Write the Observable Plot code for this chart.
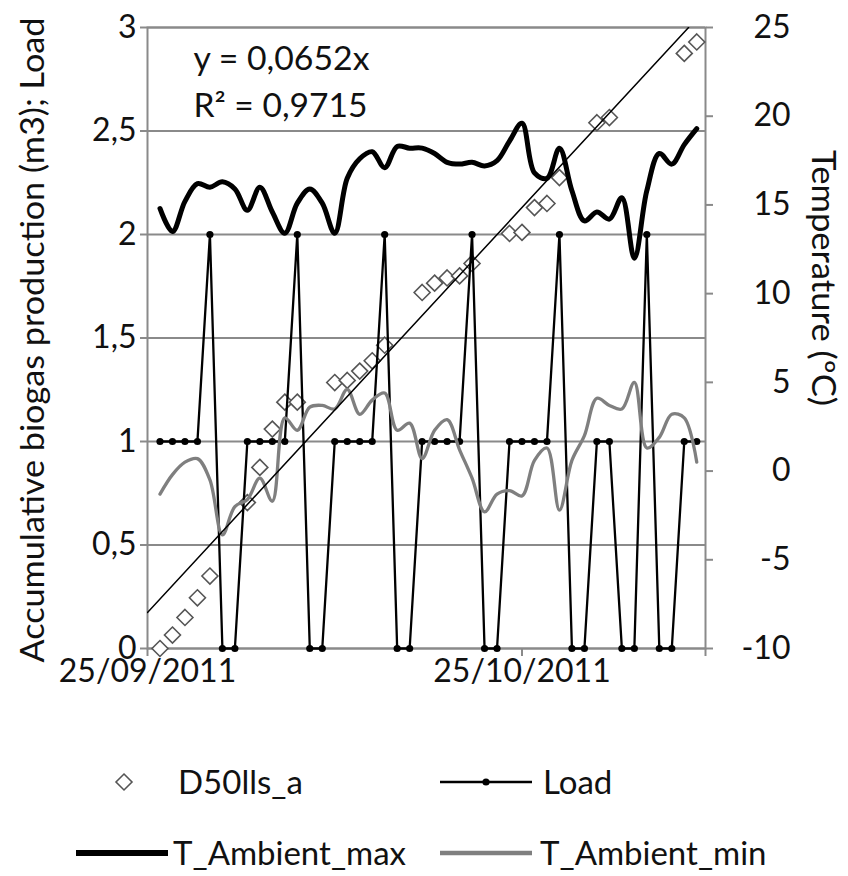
<!DOCTYPE html>
<html><head><meta charset="utf-8">
<script src="https://cdn.jsdelivr.net/npm/d3@7"></script>
<script src="https://cdn.jsdelivr.net/npm/@observablehq/plot@0.6"></script>
<style>
body{margin:0;background:#fff;}
#wrap{position:relative;width:848px;height:876px;font-family:Lato,sans-serif;color:#111;}
#chart{position:absolute;left:0;top:0;}
#legend{position:absolute;left:0;top:700px;}
</style></head><body><div id="wrap"><div id="chart"></div><div id="legend"></div></div>
<script>
// ---------- data (days after 25/09/2011) ----------
const startDate = [2011, 8, 25];
const xTickDays = [0, 30];
const xTickLabels = ["25/09/2011", "25/10/2011"];
const xEndDay = 44.7;

const leftTicks = [0, 0.5, 1, 1.5, 2, 2.5, 3];
const tempTicks = [-10, -5, 0, 5, 10, 15, 20, 25];

const bioDays   = [1,2,3,4,5, 8,9,10,11,12, 15,16,17,18,19, 22,23,24,25,26, 29,30,31,32,33, 36,37, 43,44];
const bioValues = [0,0.065,0.15,0.245,0.35, 0.705,0.875,1.06,1.19,1.19, 1.285,1.295,1.34,1.39,1.465,
                   1.72,1.765,1.79,1.8,1.86, 2.005,2.01,2.13,2.15,2.275, 2.54,2.565, 2.875,2.93];

const seriesDays = [1,2,3,4,5,6,7,8,9,10,11,12,13,14,15,16,17,18,19,20,21,22,23,24,25,26,27,28,29,30,31,32,33,34,35,36,37,38,39,40,41,42,43,44];
const loadValues = [1,1,1,1,2,0,0, 1,1,1,1,2,0,0, 1,1,1,1,2,0,0, 1,1,1,1,2,0,0, 1,1,1,1,2,0,0, 1,1,0,0,2,0,0, 1,1];
const tMaxValues = [14.8,13.5,15.2,16.2,16.0,16.3,15.9,14.7,16.0,14.6,13.4,15.1,15.9,15.1,13.4,16.5,17.6,18.0,17.1,18.3,18.2,
                    18.2,17.9,17.4,17.3,17.4,17.2,17.5,18.6,19.6,16.8,16.5,18.2,15.8,14.1,14.6,14.2,15.4,12.0,15.8,17.9,17.3,18.4,19.3];
const tMinValues = [-1.3,-0.2,0.5,0.7,-0.5,-3.6,-2.0,-1.6,-0.4,-1.7,3.0,2.3,3.6,3.7,3.5,4.6,3.2,4.0,4.4,2.3,2.7,
                    0.7,2.3,2.9,1.2,-0.4,-2.3,-1.3,-1.1,-1.4,0.6,1.3,-2.2,0.6,2.0,4.1,3.7,3.5,5.0,1.3,1.9,3.2,3.0,0.5];

const trendSlope = 0.0652;      // y = 0,0652x
const trendZeroDay = -2.67;     // x origin of the fitted line
const eqLines = ["y = 0,0652x", "R\u00B2 = 0,9715"];
const leftTitle = "Accumulative biogas production (m3); Load";
const rightTitle = "Temperature (\u00BAC)";
const legendLabels = ["D50lls_a", "Load", "T_Ambient_max", "T_Ambient_min"];

// ---------- helpers ----------
const START = Date.UTC(...startDate);
const toDate = d => new Date(START + d * 864e5);
const tMin = -10, tMax = 25, leftMax = 3;
const tempToLeft = t => (t - tMin) / (tMax - tMin) * leftMax;
const leftToTemp = v => v * (tMax - tMin) / leftMax + tMin;

const bio = bioDays.map((d, i) => ({date: toDate(d), v: bioValues[i]}));
const load = seriesDays.map((d, i) => ({date: toDate(d), v: loadValues[i]}));
const tmax = seriesDays.map((d, i) => ({date: toDate(d), v: tempToLeft(tMaxValues[i])}));
const tmin = seriesDays.map((d, i) => ({date: toDate(d), v: tempToLeft(tMinValues[i])}));
const trendEnd = leftMax / trendSlope + trendZeroDay;
const trend = [0, trendEnd].map(d => ({date: toDate(d), v: trendSlope * (d - trendZeroDay)}));

const grid = "#8a8a8a";
const txt = "#111";

const chart = Plot.plot({
  width: 848, height: 700,
  marginLeft: 147, marginRight: 143, marginTop: 27, marginBottom: 52,
  style: {fontFamily: "Lato, sans-serif", fontSize: "32px", color: txt, background: "#fff"},
  x: {type: "utc", domain: [toDate(0), toDate(xEndDay)]},
  y: {domain: [0, leftMax]},
  marks: [
    Plot.ruleY(leftTicks, {stroke: grid, strokeWidth: 2}),
    Plot.frame({stroke: grid, strokeWidth: 2}),
    Plot.axisY({anchor: "left", ticks: leftTicks, tickFormat: v => String(v).replace(".", ","),
      tickSize: 7, tickPadding: 4, stroke: grid, strokeWidth: 2, fill: txt, label: null}),
    Plot.axisY({anchor: "right", ticks: tempTicks.map(tempToLeft),
      tickFormat: v => String(Math.round(leftToTemp(v))),
      tickSize: 7, tickPadding: 78, textAnchor: "end", stroke: grid, strokeWidth: 2, fill: txt, label: null}),
    Plot.axisX({ticks: xTickDays.map(toDate), tickFormat: (d, i) => xTickLabels[i],
      tickSize: 8, tickPadding: 3, stroke: grid, strokeWidth: 2, fill: txt, label: null}),
    Plot.axisX({ticks: [toDate(xEndDay)], tickSize: 8, stroke: grid, strokeWidth: 2, fill: "none", label: null}),
    Plot.dot(bio, {x: "date", y: "v", symbol: "diamond2", r: 7.2, fill: "white", stroke: "#555", strokeWidth: 1.6}),
    Plot.line(load, {x: "date", y: "v", stroke: "#000", strokeWidth: 2.3}),
    Plot.dot(load, {x: "date", y: "v", r: 3.6, fill: "#000"}),
    Plot.line(tmax, {x: "date", y: "v", curve: "catmull-rom", stroke: "#000", strokeWidth: 5}),
    Plot.line(tmin, {x: "date", y: "v", curve: "catmull-rom", stroke: "#7f7f7f", strokeWidth: 3.3}),
    Plot.line(trend, {x: "date", y: "v", stroke: "#000", strokeWidth: 1.5, clip: true}),
    Plot.text([eqLines[0]], {text: d => d, frameAnchor: "top-left", dx: 46, dy: 32, textAnchor: "start", lineAnchor: "middle", fill: txt}),
    Plot.text([eqLines[1]], {text: d => d, frameAnchor: "top-left", dx: 46, dy: 79, textAnchor: "start", lineAnchor: "middle", fill: txt}),
    Plot.text([leftTitle], {text: d => d, frameAnchor: "left", dx: -114, dy: 2, rotate: -90, textAnchor: "middle", lineAnchor: "middle", fill: txt}),
    Plot.text([rightTitle], {text: d => d, frameAnchor: "right", dx: 117, dy: -60, rotate: 90, textAnchor: "middle", lineAnchor: "middle", fill: txt})
  ]
});
document.getElementById("chart").appendChild(chart);

// fit long texts to reference lengths
const fit = {[leftTitle]: 645, [rightTitle]: 256, [eqLines[0]]: 176, [eqLines[1]]: 174};
chart.querySelectorAll("text").forEach(t => {
  const L = fit[t.textContent];
  if (L) { t.setAttribute("textLength", L); t.setAttribute("lengthAdjust", "spacingAndGlyphs"); }
});

// ---------- legend (below the chart) ----------
const lg = d3.select("#legend").append("svg").attr("width", 848).attr("height", 176)
  .style("font-family", "Lato, sans-serif").style("font-size", "33px");
const r1 = 82, r2 = 153;
lg.append("path").attr("d", d3.symbol(d3.symbolDiamond2, Math.PI * 7.2 * 7.2)())
  .attr("transform", `translate(124,${r1})`).attr("fill", "white").attr("stroke", "#555").attr("stroke-width", 1.6);
lg.append("text").attr("x", 178).attr("y", r1).attr("dy", "0.35em").attr("fill", txt).text(legendLabels[0]);
lg.append("line").attr("x1", 440).attr("x2", 532).attr("y1", r1).attr("y2", r1).attr("stroke", "#000").attr("stroke-width", 2.3);
lg.append("circle").attr("cx", 486).attr("cy", r1).attr("r", 3.6).attr("fill", "#000");
lg.append("text").attr("x", 543).attr("y", r1).attr("dy", "0.35em").attr("fill", txt).text(legendLabels[1]);
lg.append("line").attr("x1", 76).attr("x2", 168).attr("y1", r2).attr("y2", r2).attr("stroke", "#000").attr("stroke-width", 6);
lg.append("text").attr("x", 173).attr("y", r2).attr("dy", "0.35em").attr("fill", txt).text(legendLabels[2]);
lg.append("line").attr("x1", 440).attr("x2", 532).attr("y1", r2).attr("y2", r2).attr("stroke", "#7f7f7f").attr("stroke-width", 4.5);
lg.append("text").attr("x", 540).attr("y", r2).attr("dy", "0.35em").attr("fill", txt).text(legendLabels[3]);
</script></body></html>
